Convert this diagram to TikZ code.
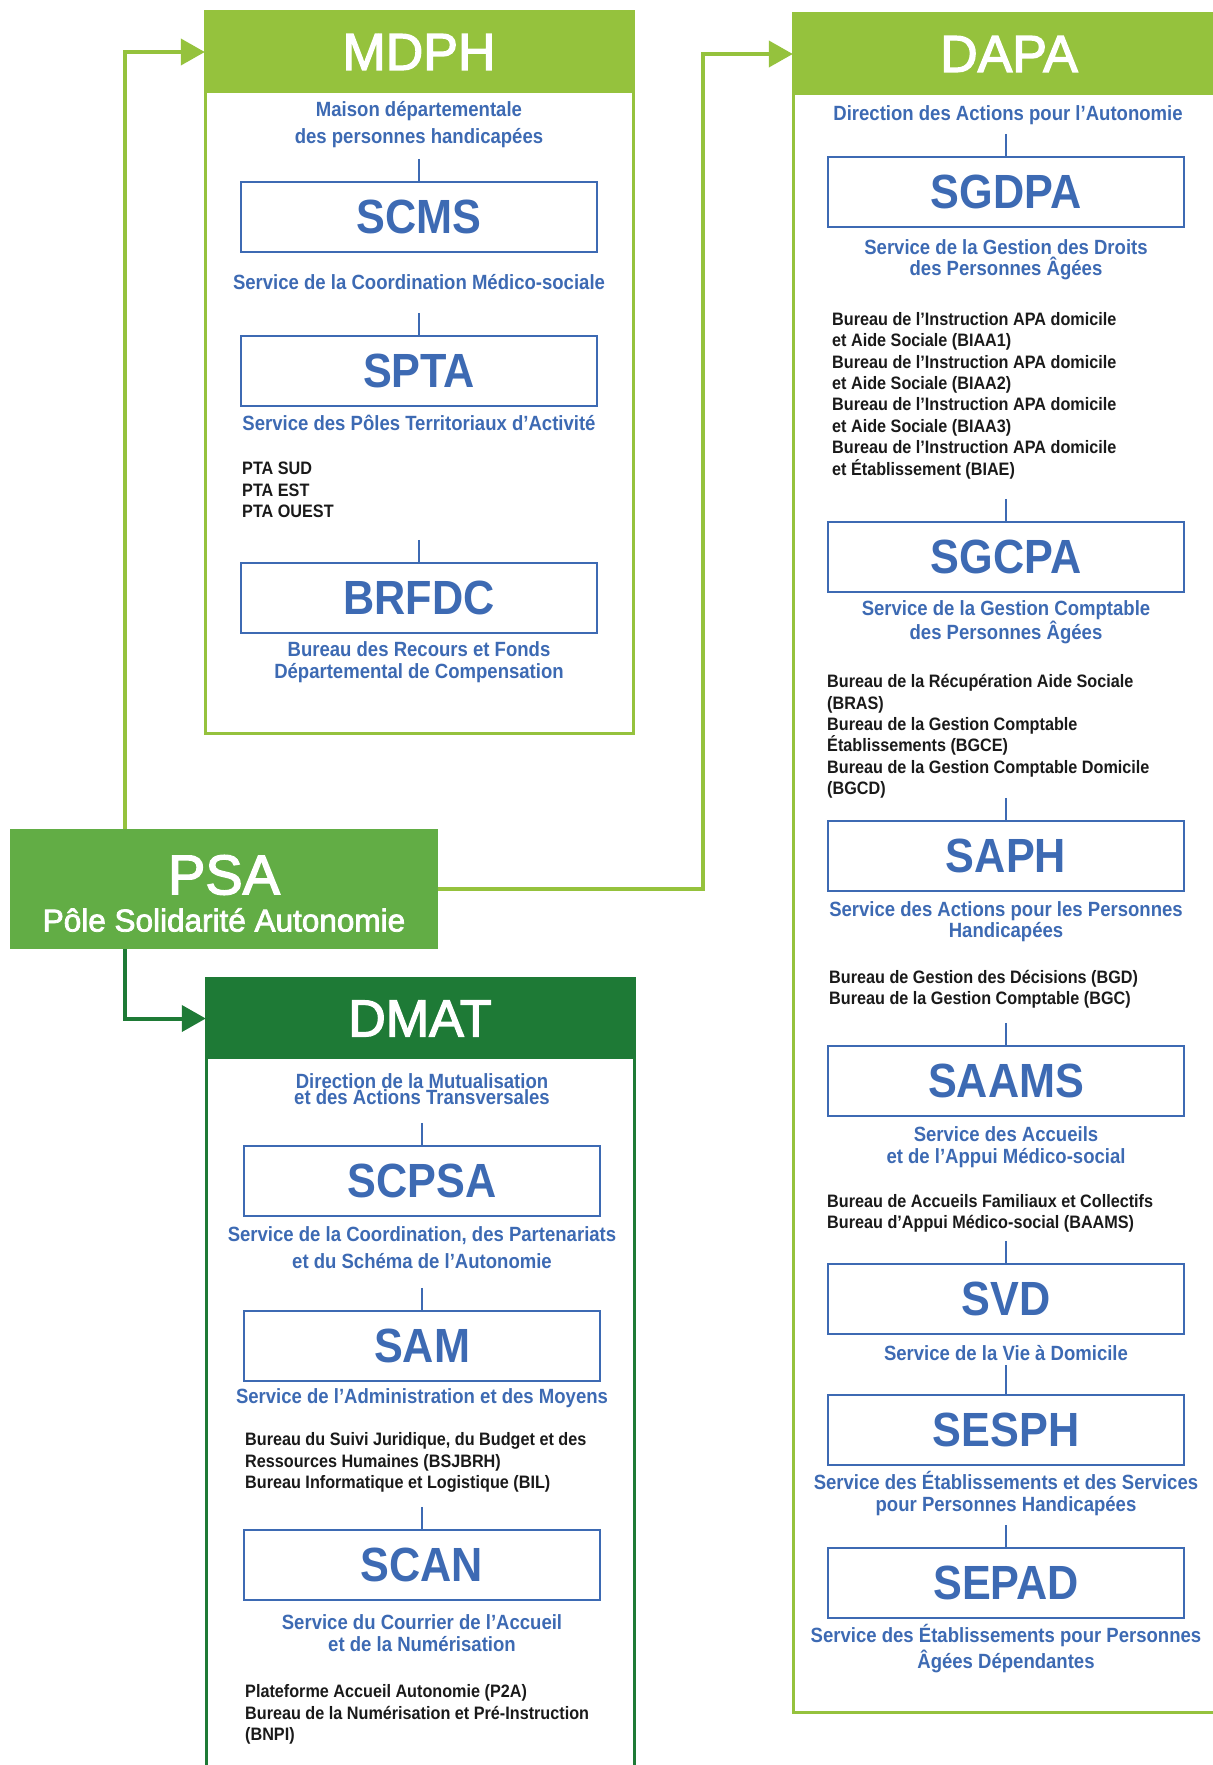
\documentclass[tikz,border=0pt]{standalone}
\usepackage{fontspec}
\setmainfont{Liberation Sans}[BoldFeatures={FakeStretch=0.9}]
\newfontfamily\headfont{Liberation Sans}[FakeBold=2.5]
\usepackage{xcolor}
\usepackage{tikz}
\usetikzlibrary{
    positioning,
    calc,
    arrows.meta
}
\definecolor{mdphgreen}{RGB}{149,194,61}
\definecolor{psagreen}{RGB}{98,173,69}
\definecolor{dmatgreen}{RGB}{30,122,54}
\definecolor{svcblue}{RGB}{61,106,179}
\definecolor{listblack}{RGB}{26,26,26}
\tikzset{
  head/.style = {
      rectangle,
      fill=#1,
      text=white,
      minimum width=428pt,
      minimum height=82pt,
      inner sep=0pt,
      font=\headfont\fontsize{52}{52}\selectfont
  },
  frame/.style = {
      draw=#1,
      line width=3pt
  },
  svc/.style = {
      draw=svcblue,
      rectangle,
      line width=2.5pt,
      minimum width=356pt,
      minimum height=70pt,
      inner sep=0pt,
      text=svcblue,
      font=\fontsize{48}{48}\selectfont\bfseries
  },
  sub/.style = {
      align=center,
      inner sep=0pt,
      text=svcblue,
      font=\fontsize{20.6}{21.5}\selectfont\bfseries
  },
  bureau/.style = {
      align=left,
      anchor=west,
      inner sep=0pt,
      text=listblack,
      font=\fontsize{18}{21.4}\selectfont\bfseries
  },
  link/.style = {
      draw=svcblue,
      line width=2pt
  },
  feed/.style = {
      draw=#1,
      line width=4pt,
      -{Triangle[length=24pt, width=26pt]}
  }
}

\begin{document}
\begin{tikzpicture}[x=1pt, y=-1pt]
    \useasboundingbox (0,0) rectangle (1213,1765);
    % Frames
    \draw[frame=mdphgreen] (205,11) rectangle (633,733);
    \draw[frame=mdphgreen] (793,13) rectangle (1225,1712);
    \draw[frame=dmatgreen] (206,978) rectangle (634,1785);
    % Nodes
    \node[rectangle, fill=psagreen, minimum width=428pt, minimum height=120pt] (psa) at (224,889) {};
    \node[text=white, font=\headfont\fontsize{56}{56}\selectfont] (psatitle) at (224,875) {PSA};
    \node[text=white, font=\headfont\fontsize{31.5}{32}\selectfont] (psaname) at (224,920) {Pôle Solidarité Autonomie};

    % MDPH
    \node[head=mdphgreen] (mdphhead) at (419,52) {MDPH};
    \node[sub, font=\fontsize{20.6}{27}\selectfont\bfseries] (mdphsub) at (419,125) {Maison départementale\\des personnes handicapées};
    \node[svc] (scms) at (419,217) {SCMS};
    \node[sub] (scmssub) at (419,282) {Service de la Coordination Médico-sociale};
    \node[svc] (spta) at (419,371) {SPTA};
    \node[sub] (sptasub) at (419,423) {Service des Pôles Territoriaux d’Activité};
    \node[bureau] (ptalist) at (242,490) {PTA SUD\\PTA EST\\PTA OUEST};
    \node[svc] (brfdc) at (419,598) {BRFDC};
    \node[sub] (brfdcsub) at (419,662) {Bureau des Recours et Fonds\\Départemental de Compensation};

    % DAPA
    \node[head=mdphgreen, minimum width=432pt] (dapahead) at (1009,54) {DAPA};
    \node[sub] (dapasub) at (1008,115) {Direction des Actions pour l’Autonomie};
    \node[svc] (sgdpa) at (1006,192) {SGDPA};
    \node[sub] (sgdpasub) at (1006,259.5) {Service de la Gestion des Droits\\des Personnes Âgées};
    \node[bureau] (sgdpalist) at (832,395.5) {Bureau de l’Instruction APA domicile\\et Aide Sociale (BIAA1)\\Bureau de l’Instruction APA domicile\\et Aide Sociale (BIAA2)\\Bureau de l’Instruction APA domicile\\et Aide Sociale (BIAA3)\\Bureau de l’Instruction APA domicile\\et Établissement (BIAE)};
    \node[svc] (sgcpa) at (1006,557) {SGCPA};
    \node[sub] (sgcpasub) at (1006,622.5) {Service de la Gestion Comptable\\des Personnes Âgées};
    \node[bureau] (sgcpalist) at (827,736.5) {Bureau de la Récupération Aide Sociale\\(BRAS)\\Bureau de la Gestion Comptable\\Établissements (BGCE)\\Bureau de la Gestion Comptable Domicile\\(BGCD)};
    \node[svc] (saph) at (1006,856) {SAPH};
    \node[sub] (saphsub) at (1006,921.5) {Service des Actions pour les Personnes\\Handicapées};
    \node[bureau] (saphlist) at (829,989.5) {Bureau de Gestion des Décisions (BGD)\\Bureau de la Gestion Comptable (BGC)};
    \node[svc] (saams) at (1006,1081) {SAAMS};
    \node[sub] (saamssub) at (1006,1147) {Service des Accueils\\et de l’Appui Médico-social};
    \node[bureau] (saamslist) at (827,1213.5) {Bureau de Accueils Familiaux et Collectifs\\Bureau d’Appui Médico-social (BAAMS)};
    \node[svc] (svd) at (1006,1299) {SVD};
    \node[sub] (svdsub) at (1006,1353) {Service de la Vie à Domicile};
    \node[svc] (sesph) at (1006,1430) {SESPH};
    \node[sub] (sesphsub) at (1006,1493.5) {Service des Établissements et des Services\\pour Personnes Handicapées};
    \node[svc] (sepad) at (1006,1583) {SEPAD};
    \node[sub, font=\fontsize{20.6}{26}\selectfont\bfseries] (sepadsub) at (1006,1649) {Service des Établissements pour Personnes\\Âgées Dépendantes};

    % DMAT
    \node[head=dmatgreen, minimum height=81pt] (dmathead) at (420,1018.5) {DMAT};
    \node[sub, font=\fontsize{20.6}{16}\selectfont\bfseries] (dmatsub) at (422,1089) {Direction de la Mutualisation\\et des Actions Transversales};
    \node[svc] (scpsa) at (422,1181) {SCPSA};
    \node[sub, font=\fontsize{20.6}{27}\selectfont\bfseries] (scpsasub) at (422,1247.5) {Service de la Coordination, des Partenariats\\et du Schéma de l’Autonomie};
    \node[svc] (sam) at (422,1346) {SAM};
    \node[sub] (samsub) at (422,1398) {Service de l’Administration et des Moyens};
    \node[bureau] (samlist) at (245,1462.5) {Bureau du Suivi Juridique, du Budget et des\\Ressources Humaines (BSJBRH)\\Bureau Informatique et Logistique (BIL)};
    \node[svc] (scan) at (422,1565) {SCAN};
    \node[sub] (scansub) at (422,1633) {Service du Courrier de l’Accueil\\et de la Numérisation};
    \node[bureau] (scanlist) at (245,1714.5) {Plateforme Accueil Autonomie (P2A)\\Bureau de la Numérisation et Pré-Instruction\\(BNPI)};

    % Edges
    \coordinate (dapabend) at (703,889);
    \draw[feed=mdphgreen] ([xshift=115pt]psa.north west) |- (mdphhead.west);
    \draw[feed=mdphgreen] (psa.east) -- (dapabend) |- (dapahead.west);
    \draw[feed=dmatgreen] ([xshift=115pt]psa.south west) |- (dmathead.west);

    \draw[link] ([yshift=22pt]scms.north) -- (scms.north);
    \draw[link] ([yshift=22pt]spta.north) -- (spta.north);
    \draw[link] ([yshift=22pt]brfdc.north) -- (brfdc.north);

    \draw[link] ([yshift=22pt]sgdpa.north) -- (sgdpa.north);
    \draw[link] ([yshift=22pt]sgcpa.north) -- (sgcpa.north);
    \draw[link] ([yshift=22pt]saph.north) -- (saph.north);
    \draw[link] ([yshift=22pt]saams.north) -- (saams.north);
    \draw[link] ([yshift=22pt]svd.north) -- (svd.north);
    \draw[link] ([yshift=29pt]sesph.north) -- (sesph.north);
    \draw[link] ([yshift=22pt]sepad.north) -- (sepad.north);

    \draw[link] ([yshift=22pt]scpsa.north) -- (scpsa.north);
    \draw[link] ([yshift=22pt]sam.north) -- (sam.north);
    \draw[link] ([yshift=22pt]scan.north) -- (scan.north);
\end{tikzpicture}
\end{document}
